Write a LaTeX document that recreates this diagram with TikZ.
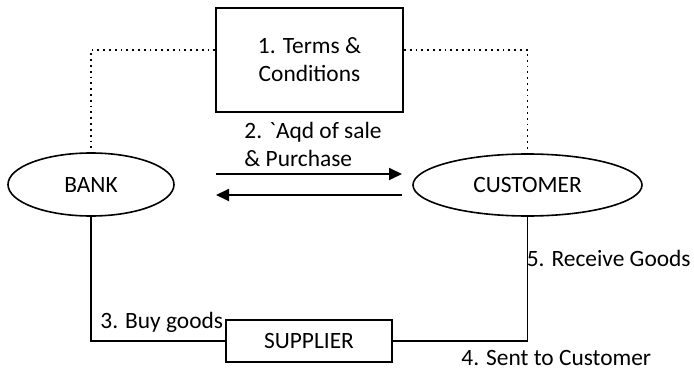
\documentclass[tikz,border=0pt]{standalone}
\usepackage{fontspec}
\setmainfont{Carlito}
\usetikzlibrary{arrows.meta, shapes.geometric}

\begin{document}
\begin{tikzpicture}[x=0.5pt, y=-0.5pt,
  every node/.style={font=\fontsize{11.7}{14}\selectfont},
  box/.style={draw, line width=0.9pt, inner sep=0pt},
  party/.style={draw, ellipse, line width=0.8pt, inner sep=0pt},
  lbl/.style={inner sep=0pt},
  link/.style={line width=0.9pt},
  dots/.style={dotted, line width=0.9pt},
  flow/.style={line width=0.9pt, -{Triangle[length=6.5pt, width=6pt]}}]
  \useasboundingbox (0,0) rectangle (694,369);
  % parties and contract
  \node[box, minimum width=93.5pt, minimum height=52pt, align=center] (terms) at (309.5,60) {1. Terms \&\\Conditions};
  \node[party, minimum width=83pt, minimum height=31.5pt] (bank) at (91,184.5) {BANK};
  \node[party, minimum width=114.5pt, minimum height=31pt] (cust) at (527.5,185) {CUSTOMER};
  \node[box, minimum width=83pt, minimum height=21pt] (supp) at (309,341) {SUPPLIER};
  % contract links
  \draw[dots] ([yshift=5pt]terms.west) -| (bank.north);
  \draw[dots] ([yshift=5pt]terms.east) -| (cust.north);
  % sale and purchase
  \coordinate (aqdL) at (216,174);
  \coordinate (aqdR) at (402,174);
  \coordinate (payR) at (402,195);
  \coordinate (payL) at (216,195);
  \draw[flow] (aqdL) -- (aqdR);
  \draw[flow] (payR) -- (payL);
  \node[lbl, anchor=west, align=left] (aqd) at (244,144) {2. \textasciigrave Aqd of sale\\\& Purchase};
  % goods
  \draw[link] (bank.south) |- (supp.west);
  \draw[link] (supp.east) -| (cust.south);
  \node[lbl, anchor=west] (buy) at (100,322) {3. Buy goods};
  \node[lbl, anchor=west] (sent) at (461,358) {4. Sent to Customer};
  \node[lbl, anchor=east] (recv) at (691,258) {5. Receive Goods};
\end{tikzpicture}
\end{document}
